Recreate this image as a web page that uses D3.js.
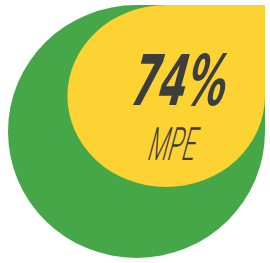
<!DOCTYPE html>
<html>
<head>
<meta charset="utf-8">
<script src="https://cdn.jsdelivr.net/npm/d3@7"></script>
<style>
  html, body { margin: 0; padding: 0; background: #fff; }
  svg { display: block; }
</style>
</head>
<body>
<div class="visHolder"></div>
<script>
const w = 270, h = 263;

// chart data
const labels = ['MPE'];
const values = [74];
const maxValue = [100];

const green = '#46a748';
const yellow = '#fdd333';
const ink = '#3d3d3d';

const svg = d3.select('.visHolder')
  .append('svg')
  .attr('width', w)
  .attr('height', h);

// outer drop, top-right corner anchored
const cornerX = 265, cornerY = 5;
const outerW = 257, outerH = 253;

// size scales for the inner drop (anchored to the same corner)
const xScale = d3.scaleLinear().domain([0, maxValue[0]]).range([0, 267]);
const yScale = d3.scaleLinear().domain([0, maxValue[0]]).range([0, 246]);

// teardrop: three rounded quadrants, square top-right corner
const drop = (wd, ht) => {
  const rx = wd / 2, ry = ht / 2;
  const cx = cornerX - rx, cy = cornerY + ry;
  return `M${cx - rx},${cy}` +
    `A${rx},${ry} 0 0 1 ${cx},${cy - ry}` +
    `L${cx + rx},${cy - ry}` +
    `L${cx + rx},${cy}` +
    `A${rx},${ry} 0 0 1 ${cx},${cy + ry}` +
    `A${rx},${ry} 0 0 1 ${cx - rx},${cy}Z`;
};

svg.append('path')
  .attr('d', drop(outerW, outerH))
  .attr('fill', green);

svg.selectAll('.inner')
  .data(values)
  .enter()
  .append('path')
  .attr('class', 'inner')
  .attr('d', d => drop(xScale(d), yScale(d)))
  .attr('fill', yellow);

// slanted condensed labels, skewed about their baseline
svg.append('text')
  .attr('transform', 'translate(127,105) skewX(-15)')
  .attr('fill', ink)
  .attr('font-family', 'DejaVu Sans Condensed, DejaVu Sans')
  .attr('font-weight', 'bold')
  .attr('font-size', 70)
  .attr('textLength', 95)
  .attr('lengthAdjust', 'spacingAndGlyphs')
  .text(values[0] + '%');

svg.append('text')
  .attr('transform', 'translate(146,160) skewX(-15)')
  .attr('fill', ink)
  .attr('font-family', 'Roboto')
  .attr('font-weight', 300)
  .attr('font-size', 46)
  .attr('textLength', 47)
  .attr('lengthAdjust', 'spacingAndGlyphs')
  .text(labels[0]);
</script>
</body>
</html>
